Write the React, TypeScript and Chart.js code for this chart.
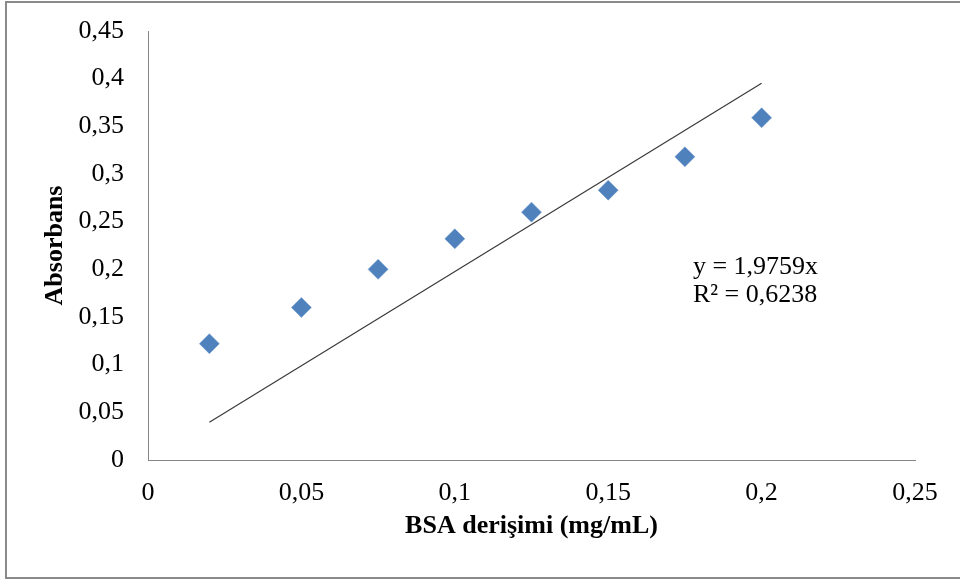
import React, { useEffect, useRef } from "react";
import { Chart, registerables } from "chart.js";

Chart.register(...registerables);

const concentrations = [0.02, 0.05, 0.075, 0.1, 0.125, 0.15, 0.175, 0.2];
const absorbance = [0.122, 0.16, 0.2, 0.232, 0.26, 0.283, 0.318, 0.359];
const trendX = [0.02, 0.2];
const trendY = [0.0395, 0.3952];
const xTickLabels = ["0", "0,05", "0,1", "0,15", "0,2", "0,25"];
const yTickLabels = ["0", "0,05", "0,1", "0,15", "0,2", "0,25", "0,3", "0,35", "0,4", "0,45"];
const equationLines = ["y = 1,9759x", "R² = 0,6238"];
const equationAnchor = { x: 0.1776, y: [0.2025, 0.173] };

const FONT = '"Liberation Serif", "Times New Roman", serif';

const equationPlugin = {
  id: "equation",
  afterDatasetsDraw(chart: any) {
    const { ctx, scales } = chart;
    ctx.save();
    ctx.font = `26px ${FONT}`;
    ctx.fillStyle = "#000";
    ctx.textAlign = "left";
    ctx.textBaseline = "middle";
    equationLines.forEach((t, i) => {
      ctx.fillText(t, scales.x.getPixelForValue(equationAnchor.x), scales.y.getPixelForValue(equationAnchor.y[i]));
    });
    ctx.restore();
  },
};

export default function App() {
  const ref = useRef<HTMLCanvasElement>(null);
  useEffect(() => {
    if (!ref.current) return;
    const chart = new Chart(ref.current, {
      type: "scatter",
      data: {
        datasets: [
          {
            type: "line",
            data: trendX.map((x, i) => ({ x, y: trendY[i] })),
            borderColor: "#3a3a3a",
            borderWidth: 1.2,
            pointRadius: 0,
            fill: false,
          } as any,
          {
            data: concentrations.map((x, i) => ({ x, y: absorbance[i] })),
            backgroundColor: "#4F81BD",
            borderColor: "#6d96cc",
            borderWidth: 0.5,
            pointStyle: "rectRot",
            pointRadius: 10,
          },
        ],
      },
      options: {
        responsive: false,
        animation: false,
        layout: { padding: { left: 0, top: 31, right: 45, bottom: 0 } },
        plugins: { legend: { display: false }, tooltip: { enabled: false } },
        scales: {
          x: {
            type: "linear",
            min: 0,
            max: 0.25,
            afterFit: (s: any) => { s.height = 120; },
            ticks: {
              stepSize: 0.05,
              padding: 18,
              color: "#000",
              font: { family: FONT, size: 26, lineHeight: 1.2 },
              callback: (_v: any, i: number) => xTickLabels[i],
            },
            grid: { display: false, drawTicks: false },
            border: { display: true, color: "#868686", width: 1 },
            title: {
              display: true,
              text: "BSA derişimi (mg/mL)",
              color: "#000",
              font: { family: FONT, size: 26, weight: "bold", lineHeight: 1 },
              padding: { top: 0, bottom: 41 },
            },
          },
          y: {
            type: "linear",
            min: 0,
            max: 0.45,
            afterFit: (s: any) => { s.width = 148; },
            ticks: {
              stepSize: 0.05,
              padding: 0,
              color: "#000",
              font: { family: FONT, size: 26, lineHeight: 1.2 },
              callback: (_v: any, i: number) => yTickLabels[i],
            },
            grid: { display: false, drawTicks: true, tickLength: 24, tickColor: "rgba(0,0,0,0)" },
            border: { display: true, color: "#868686", width: 1 },
            title: {
              display: true,
              text: "Absorbans",
              color: "#000",
              font: { family: FONT, size: 26, weight: "bold", lineHeight: 1 },
              padding: { top: 42, bottom: 0 },
            },
          },
        },
      },
      plugins: [equationPlugin],
    });
    return () => chart.destroy();
  }, []);

  return (
    <div style={{ position: "absolute", left: 0, top: 0, width: 960, height: 580, background: "#fff", overflow: "hidden" }}>
      <div
        style={{
          position: "absolute",
          left: 5,
          top: 1,
          width: 1000,
          height: 574,
          borderLeft: "2px solid #8a8a8a",
          borderTop: "2px solid #8a8a8a",
          borderBottom: "2px solid #8a8a8a",
        }}
      />
      <canvas ref={ref} width={960} height={580} style={{ position: "absolute", left: 0, top: 0, display: "block" }} />
    </div>
  );
}
